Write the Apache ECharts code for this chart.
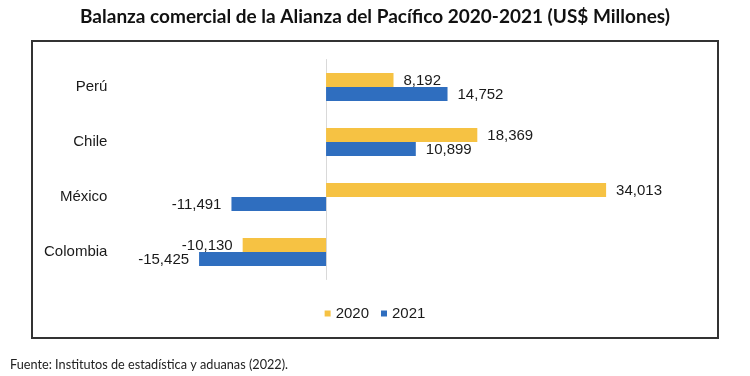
<!DOCTYPE html>
<html>
<head>
<meta charset="utf-8">
<script src="https://cdn.jsdelivr.net/npm/echarts@6/dist/echarts.min.js"></script>
<style>
  html, body { margin: 0; padding: 0; background: #fff; }
  #chart { width: 750px; height: 376px; }
</style>
</head>
<body>
<div id="chart"></div>
<script>
// categories from top to bottom
const paises = ['Perú', 'Chile', 'México', 'Colombia']
const serie2020 = [8192, 18369, 34013, -10130]
const serie2021 = [14752, 10899, -11491, -15425]
const anios = ['2020', '2021']

const chart = echarts.init(document.getElementById('chart'))

const numFmt = p => p.value.toLocaleString('en-US')

function makeSeries(name, data, color) {
  return {
    name: name,
    type: 'bar',
    yAxisIndex: 0,
    barWidth: 14,
    barGap: '0%',
    itemStyle: { color: color },
    data: data.map(v => ({
      value: v,
      label: { position: v < 0 ? 'left' : 'right' }
    })),
    label: {
      show: true,
      distance: 10,
      offset: [0, 1],
      color: '#1a1a1a',
      fontSize: 15,
      fontFamily: 'Liberation Sans, Arial, sans-serif',
      formatter: numFmt
    }
  }
}

chart.setOption({
  backgroundColor: '#fff',
  animation: false,
  title: {
    text: 'Balanza comercial de la Alianza del Pacífico 2020-2021 (US$ Millones)',
    left: 'center',
    top: 2,
    textStyle: {
      fontFamily: 'Lato, sans-serif',
      fontWeight: 'bold',
      fontSize: 19,
      color: '#111'
    }
  },
  graphic: [
    {
      type: 'rect',
      shape: { x: 32, y: 41, width: 686, height: 297 },
      style: { fill: 'none', stroke: '#333', lineWidth: 2 },
      z: -1
    },
    {
      type: 'text',
      left: 10,
      top: 358,
      style: {
        text: 'Fuente: Institutos de estadística y aduanas (2022).',
        fontFamily: 'Lato, sans-serif',
        fontSize: 12.7,
        fill: '#222'
      }
    }
  ],
  legend: {
    data: anios,
    bottom: 50,
    left: 'center',
    icon: 'rect',
    itemWidth: 6,
    itemHeight: 6,
    itemGap: 12,
    textStyle: {
      fontFamily: 'Liberation Sans, Arial, sans-serif',
      fontSize: 15,
      color: '#1a1a1a'
    }
  },
  grid: {
    left: 161.4,
    right: 94.6,
    top: 59.5,
    bottom: 96.5,
    containLabel: false,
    outerBoundsMode: 'none'
  },
  xAxis: {
    type: 'value',
    min: -20000,
    max: 40000,
    axisLabel: { show: false },
    axisLine: { show: false },
    axisTick: { show: false },
    splitLine: { show: false }
  },
  yAxis: [
    {
      // eje en cero (línea gris)
      type: 'category',
      inverse: true,
      data: paises,
      axisLine: { onZero: true, lineStyle: { color: '#d9d9d9', width: 1 } },
      axisTick: { show: false },
      axisLabel: { show: false }
    },
    {
      // nombres de países a la izquierda
      type: 'category',
      inverse: true,
      position: 'left',
      data: paises,
      axisLine: { show: false, onZero: false },
      axisTick: { show: false },
      axisLabel: {
        margin: 54,
        color: '#1a1a1a',
        fontSize: 15,
        fontFamily: 'Liberation Sans, Arial, sans-serif'
      }
    }
  ],
  series: [
    makeSeries('2020', serie2020, '#F6C243'),
    makeSeries('2021', serie2021, '#2F6EBF')
  ]
})
</script>
</body>
</html>
